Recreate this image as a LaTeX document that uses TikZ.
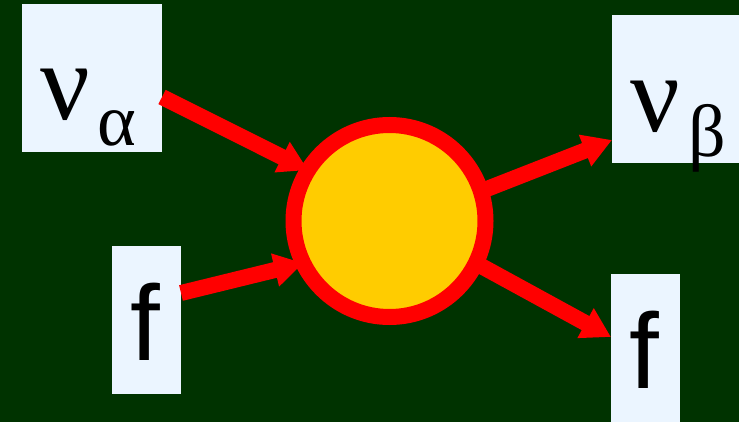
\documentclass[tikz,border=0pt]{standalone}
\usepackage{fontspec}
\setmainfont{Liberation Serif}
\newfontfamily\arialf{Liberation Sans}
\usetikzlibrary{arrows.meta}
\definecolor{bgg}{RGB}{0,51,0}
\definecolor{boxc}{RGB}{235,245,255}
\definecolor{gold}{RGB}{255,204,0}
\definecolor{redc}{RGB}{255,0,0}
\begin{document}
\begin{tikzpicture}[x=1pt,y=-1pt,
  pbox/.style={fill=boxc,draw=none,inner sep=0pt,outer sep=0pt,rectangle},
  big/.style={inner sep=0pt,anchor=base west,text=black,font=\fontsize{110}{110}\selectfont},
  small/.style={inner sep=0pt,anchor=base west,text=black,font=\fontsize{74}{74}\selectfont},
  sans/.style={inner sep=0pt,anchor=base west,text=black,font=\arialf\fontsize{107}{107}\selectfont},
  arr/.style={draw=redc,line width=16pt,-{Triangle[length=29pt,width=32pt]}}]
\fill[bgg] (0,0) rectangle (739,422);
\useasboundingbox (0,0) rectangle (739,422);
% boxes
\node[pbox,minimum width=140pt,minimum height=148pt] (na) at (92,78) {};
\node[pbox,minimum width=69pt,minimum height=148pt] (fl) at (146.5,320) {};
\node[pbox,minimum width=127pt,minimum height=148pt] (nb) at (675.5,89) {};
\node[pbox,minimum width=69pt,minimum height=148pt] (fr) at (645.5,348) {};
% texts
\node[big] (nat) at (40,120) {ν};
\node[small] (nas) at (97,146) {α};
\node[sans] (flt) at (130,360) {f};
\node[big] (nbt) at (630,132) {ν};
\node[small] (nbs) at (688,157) {β};
\node[sans] (frt) at (629,388) {f};
% circle
\node[circle,draw=redc,fill=gold,line width=16pt,minimum size=192pt,inner sep=0pt,outer sep=0pt] (c) at (389.5,221) {};
% arrows
\draw[arr] ([yshift=-19pt]na.east) -- (c.148);
\draw[arr] ([yshift=27pt]fl.east) -- (c.206);
\draw[arr] (c.18) -- ([yshift=-51pt]nb.west);
\draw[arr] (c.-26) -- ([yshift=11pt]fr.west);
\end{tikzpicture}
\end{document}
